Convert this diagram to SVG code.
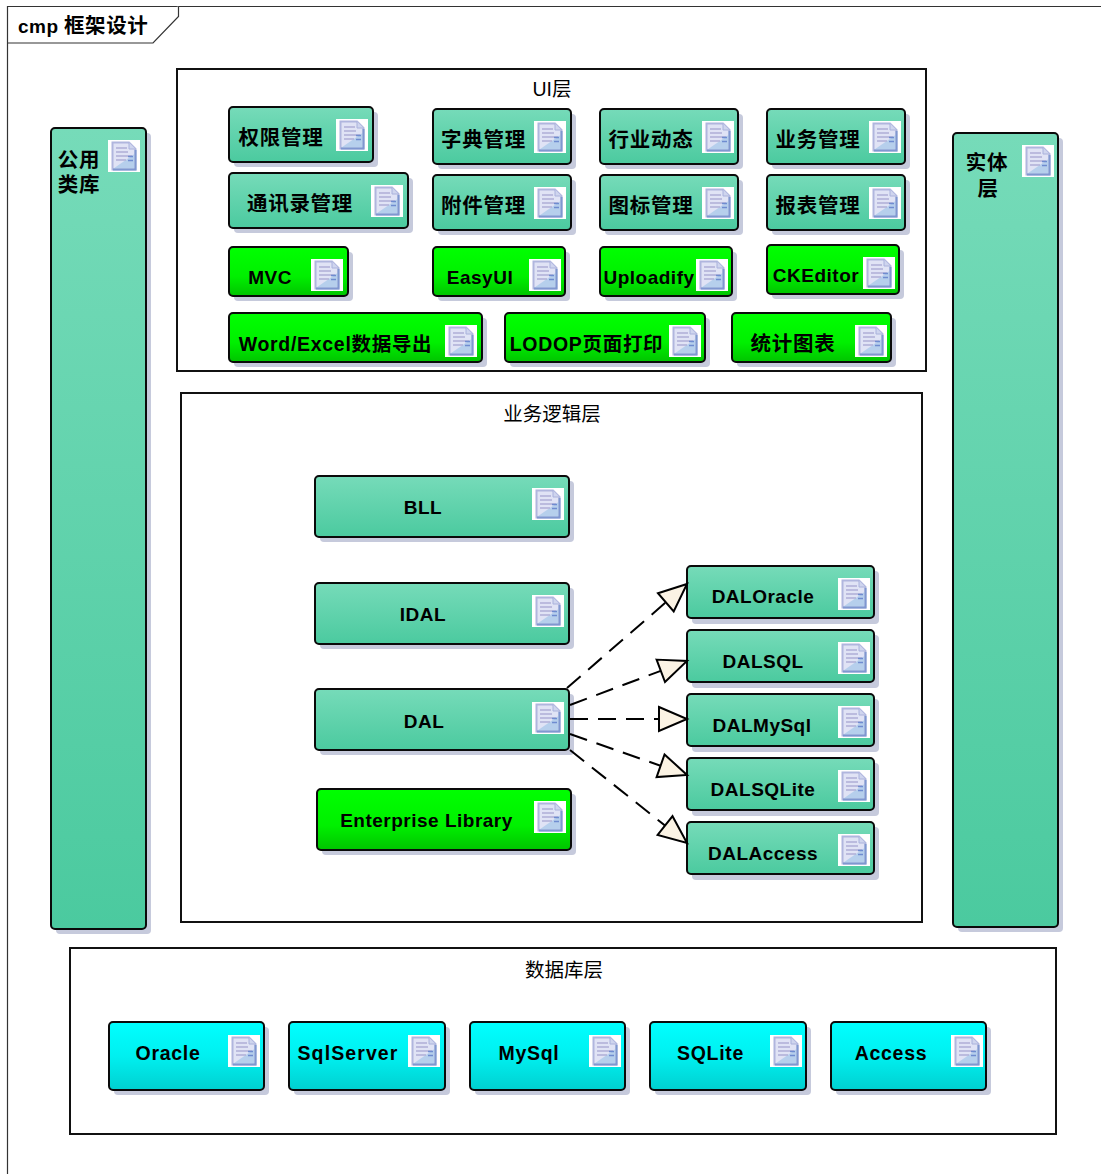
<svg xmlns="http://www.w3.org/2000/svg" width="1101" height="1174" viewBox="0 0 1101 1174">
<style>
text{font-family:"Liberation Sans","Noto Sans CJK SC",sans-serif;fill:#000}
.l{font-size:19px;font-weight:700;text-anchor:middle;letter-spacing:.5px}
.w{font-size:19.500px;font-weight:700;text-anchor:middle;letter-spacing:.7px}
.c{font-size:20.500px;font-weight:700;text-anchor:middle;letter-spacing:.7px}
.r{font-size:19.500px;text-anchor:middle}
.box{fill:#fff;stroke:#111;stroke-width:2}
.sh{fill:#c6cadc}
.n{stroke:#0a0a0a;stroke-width:2}
.t{fill:url(#gt)}.g{fill:url(#gg)}.y{fill:url(#gc)}
.con{fill:none;stroke:#000;stroke-width:2;stroke-dasharray:18 10;marker-end:url(#tri)}
</style>
<defs>
<linearGradient id="gt" x1="0" y1="0" x2="0" y2="1"><stop offset="0" stop-color="#76dbb9"/><stop offset="1" stop-color="#4bca9f"/></linearGradient>
<linearGradient id="gg" x1="0" y1="0" x2="0" y2="1"><stop offset="0" stop-color="#00ff00"/><stop offset=".6" stop-color="#00f000"/><stop offset="1" stop-color="#00c400"/></linearGradient>
<linearGradient id="gc" x1="0" y1="0" x2="0" y2="1"><stop offset="0" stop-color="#00ffff"/><stop offset=".5" stop-color="#00f0f0"/><stop offset="1" stop-color="#00d0d0"/></linearGradient>
<marker id="tri" markerUnits="userSpaceOnUse" markerWidth="34" markerHeight="30" refX="30" refY="14" orient="auto"><path d="M2 2 30 14 2 26Z" fill="#fbf3e4" stroke="#000" stroke-width="2"/></marker>
<symbol id="doc" viewBox="0 0 32 32" width="32" height="32">
<rect width="32" height="32" fill="#fff"/>
<path d="M4.500 2.500H21L27.500 9V29.500H4.500Z" fill="#e0e3f5" stroke="#b0b6de" stroke-width="2"/>
<path d="M5.500 28.500 26.500 14V28.500Z" fill="#b6cfec"/>
<path d="M21 2.500V9H27.500" fill="#cfd5ee" stroke="#aab2dc"/>
<path d="M8 8H19M8 12H20M8 16H24M8 20H18" stroke="#aeaed6" stroke-width="1.500"/>
<path d="M20 16.500H25M20 20.500H25" stroke="#6f8cd0" stroke-width="1.500"/>
<path d="M5 29.500H27.500V10" fill="none" stroke="#7f97d0" stroke-width="2"/>
</symbol>
</defs>
<rect width="1101" height="1174" fill="#fff"/>
<g id="frame">
<path d="M7.500 1174V6.500H1101" fill="none" stroke="#333" stroke-width="1.200"/>
<path d="M7.500 43H153L178.500 16.500V6.500" fill="#fff" stroke="#333" stroke-width="1.200"/>
<text y="33" style="font-weight:700"><tspan x="18" style="font-size:19px;letter-spacing:.5px">cmp</tspan><tspan x="64" style="font-size:20.500px;letter-spacing:.6px">框架设计</tspan></text>
</g>
<g id="layer-ui"><rect class="box" x="177" y="69" width="749" height="302"/><text class="r" x="552" y="96">UI层</text></g>
<g id="layer-bll"><rect class="box" x="181" y="393" width="741" height="529"/><text class="r" x="552" y="421">业务逻辑层</text></g>
<g id="layer-db"><rect class="box" x="70" y="948" width="986" height="186"/><text class="r" x="564" y="977">数据库层</text></g>

<g id="node-common"><rect class="sh" x="56" y="133" width="95" height="801" rx="4"/><rect class="n t" x="51" y="128" width="95" height="801" rx="4"/><use href="#doc" x="108" y="140"/><text class="c" x="79" y="167">公用</text><text class="c" x="79" y="192">类库</text></g>
<g id="node-entity"><rect class="sh" x="958" y="138" width="105" height="794" rx="4"/><rect class="n t" x="953" y="133" width="105" height="794" rx="4"/><use href="#doc" x="1022" y="145"/><text class="c" x="987" y="170">实体</text><text class="c" x="988" y="196">层</text></g>

<g id="node-perm"><rect class="sh" x="234" y="112" width="144" height="55" rx="4"/><rect class="n t" x="229" y="107" width="144" height="55" rx="4"/><use href="#doc" x="336" y="119"/><text class="c" x="281" y="145">权限管理</text></g>
<g id="node-contact"><rect class="sh" x="234" y="178" width="179" height="55" rx="4"/><rect class="n t" x="229" y="173" width="179" height="55" rx="4"/><use href="#doc" x="371" y="185"/><text class="c" x="300" y="211">通讯录管理</text></g>
<g id="node-dict"><rect class="sh" x="438" y="114" width="138" height="55" rx="4"/><rect class="n t" x="433" y="109" width="138" height="55" rx="4"/><use href="#doc" x="534" y="121"/><text class="c" x="483.500" y="147">字典管理</text></g>
<g id="node-news"><rect class="sh" x="605" y="114" width="138" height="55" rx="4"/><rect class="n t" x="600" y="109" width="138" height="55" rx="4"/><use href="#doc" x="702" y="121"/><text class="c" x="651" y="147">行业动态</text></g>
<g id="node-biz"><rect class="sh" x="772" y="114" width="138" height="55" rx="4"/><rect class="n t" x="767" y="109" width="138" height="55" rx="4"/><use href="#doc" x="869" y="121"/><text class="c" x="818" y="147">业务管理</text></g>
<g id="node-attach"><rect class="sh" x="438" y="180" width="138" height="55" rx="4"/><rect class="n t" x="433" y="175" width="138" height="55" rx="4"/><use href="#doc" x="534" y="187"/><text class="c" x="483.500" y="213">附件管理</text></g>
<g id="node-icon"><rect class="sh" x="605" y="180" width="138" height="55" rx="4"/><rect class="n t" x="600" y="175" width="138" height="55" rx="4"/><use href="#doc" x="702" y="187"/><text class="c" x="651" y="213">图标管理</text></g>
<g id="node-report"><rect class="sh" x="772" y="180" width="138" height="55" rx="4"/><rect class="n t" x="767" y="175" width="138" height="55" rx="4"/><use href="#doc" x="869" y="187"/><text class="c" x="818" y="213">报表管理</text></g>

<g id="node-mvc"><rect class="sh" x="234" y="252" width="119" height="49" rx="4"/><rect class="n g" x="229" y="247" width="119" height="49" rx="4"/><use href="#doc" x="311" y="259"/><text class="l" x="270" y="284">MVC</text></g>
<g id="node-easyui"><rect class="sh" x="438" y="252" width="132" height="49" rx="4"/><rect class="n g" x="433" y="247" width="132" height="49" rx="4"/><use href="#doc" x="529" y="259"/><text class="l" x="480" y="284">EasyUI</text></g>
<g id="node-uploadify"><rect class="sh" x="605" y="252" width="132" height="49" rx="4"/><rect class="n g" x="600" y="247" width="132" height="49" rx="4"/><use href="#doc" x="696" y="259"/><text class="l" x="649" y="284">Uploadify</text></g>
<g id="node-ckeditor"><rect class="sh" x="772" y="250" width="132" height="49" rx="4"/><rect class="n g" x="767" y="245" width="132" height="49" rx="4"/><use href="#doc" x="863" y="257"/><text class="l" x="816" y="282">CKEditor</text></g>
<g id="node-word"><rect class="sh" x="234" y="318" width="253" height="49" rx="4"/><rect class="n g" x="229" y="313" width="253" height="49" rx="4"/><use href="#doc" x="445" y="325"/><text class="w" x="335.500" y="351">Word/Excel数据导出</text></g>
<g id="node-lodop"><rect class="sh" x="510" y="318" width="200" height="49" rx="4"/><rect class="n g" x="505" y="313" width="200" height="49" rx="4"/><use href="#doc" x="669" y="325"/><text class="w" x="586.500" y="351">LODOP页面打印</text></g>
<g id="node-chart"><rect class="sh" x="737" y="318" width="159" height="49" rx="4"/><rect class="n g" x="732" y="313" width="159" height="49" rx="4"/><use href="#doc" x="855" y="325"/><text class="c" x="793" y="351">统计图表</text></g>

<g id="node-bll"><rect class="sh" x="320" y="481" width="254" height="61" rx="4"/><rect class="n t" x="315" y="476" width="254" height="61" rx="4"/><use href="#doc" x="532" y="488"/><text class="l" x="423" y="514">BLL</text></g>
<g id="node-idal"><rect class="sh" x="320" y="588" width="254" height="61" rx="4"/><rect class="n t" x="315" y="583" width="254" height="61" rx="4"/><use href="#doc" x="532" y="595"/><text class="l" x="423" y="621">IDAL</text></g>
<g id="node-dal"><rect class="sh" x="320" y="694" width="254" height="61" rx="4"/><rect class="n t" x="315" y="689" width="254" height="61" rx="4"/><use href="#doc" x="532" y="702"/><text class="l" x="424" y="728">DAL</text></g>
<g id="node-entlib"><rect class="sh" x="322" y="794" width="254" height="61" rx="4"/><rect class="n g" x="317" y="789" width="254" height="61" rx="4"/><use href="#doc" x="534" y="801"/><text class="l" x="426.500" y="827">Enterprise Library</text></g>

<g id="node-daloracle"><rect class="sh" x="692" y="571" width="187" height="53" rx="4"/><rect class="n t" x="687" y="566" width="187" height="52" rx="4"/><use href="#doc" x="838" y="578"/><text class="l" x="763" y="603">DALOracle</text></g>
<g id="node-dalsql"><rect class="sh" x="692" y="635" width="187" height="53" rx="4"/><rect class="n t" x="687" y="630" width="187" height="52" rx="4"/><use href="#doc" x="838" y="642"/><text class="l" x="763" y="668">DALSQL</text></g>
<g id="node-dalmysql"><rect class="sh" x="692" y="699" width="187" height="53" rx="4"/><rect class="n t" x="687" y="694" width="187" height="52" rx="4"/><use href="#doc" x="838" y="706"/><text class="l" x="762" y="732">DALMySql</text></g>
<g id="node-dalsqlite"><rect class="sh" x="692" y="763" width="187" height="53" rx="4"/><rect class="n t" x="687" y="758" width="187" height="52" rx="4"/><use href="#doc" x="838" y="770"/><text class="l" x="763" y="796">DALSQLite</text></g>
<g id="node-dalaccess"><rect class="sh" x="692" y="827" width="187" height="53" rx="4"/><rect class="n t" x="687" y="822" width="187" height="52" rx="4"/><use href="#doc" x="838" y="834"/><text class="l" x="763" y="860">DALAccess</text></g>

<g id="node-oracle"><rect class="sh" x="114" y="1027" width="155" height="68" rx="4"/><rect class="n y" x="109" y="1022" width="155" height="68" rx="4"/><use href="#doc" x="228" y="1035"/><text class="w" x="168" y="1060">Oracle</text></g>
<g id="node-sqlserver"><rect class="sh" x="294" y="1027" width="156" height="68" rx="4"/><rect class="n y" x="289" y="1022" width="156" height="68" rx="4"/><use href="#doc" x="408" y="1035"/><text class="w" x="348" y="1060" style="letter-spacing:1.100px">SqlServer</text></g>
<g id="node-mysql"><rect class="sh" x="475" y="1027" width="155" height="68" rx="4"/><rect class="n y" x="470" y="1022" width="155" height="68" rx="4"/><use href="#doc" x="589" y="1035"/><text class="w" x="529" y="1060">MySql</text></g>
<g id="node-sqlite"><rect class="sh" x="655" y="1027" width="156" height="68" rx="4"/><rect class="n y" x="650" y="1022" width="156" height="68" rx="4"/><use href="#doc" x="770" y="1035"/><text class="w" x="710.500" y="1060">SQLite</text></g>
<g id="node-access"><rect class="sh" x="836" y="1027" width="155" height="68" rx="4"/><rect class="n y" x="831" y="1022" width="155" height="68" rx="4"/><use href="#doc" x="951" y="1035"/><text class="w" x="891" y="1060">Access</text></g>

<g id="connectors">
<path class="con" d="M567 688 687 584"/>
<path class="con" d="M570 705 687 661"/>
<path class="con" d="M570 719H687"/>
<path class="con" d="M570 734 687 775"/>
<path class="con" d="M570 750 687 843"/>
</g>
</svg>
